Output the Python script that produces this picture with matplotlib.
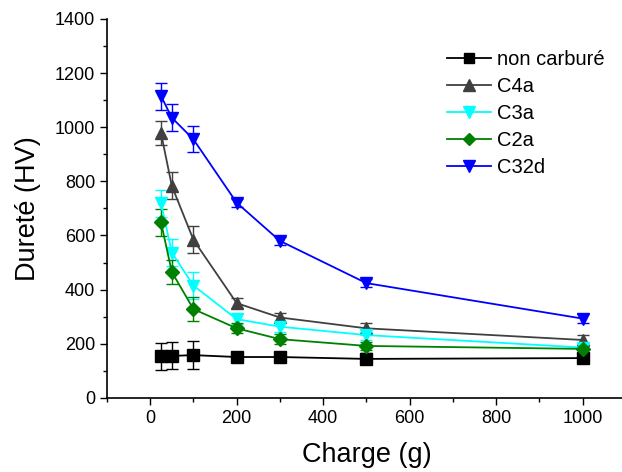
import numpy as np
import matplotlib.pyplot as plt
from matplotlib.ticker import MultipleLocator
from matplotlib.lines import Line2D

plt.rcParams['font.family'] = ['Liberation Sans', 'DejaVu Sans']

# charge appliquée (g)
charge = [25, 50, 100, 200, 300, 500, 1000]

# dureté (HV) et barres d'erreur de chaque série
non_carb = [153, 155, 158, 151, 151, 144, 147]
non_carb_err = [50, 50, 52, 15, 15, 20, 15]

c4a = [978, 783, 584, 350, 297, 257, 214]
c4a_err = [45, 50, 50, 18, 18, 20, 18]

c3a = [719, 537, 415, 291, 263, 232, 186]
c3a_err = [50, 50, 50, 18, 18, 18, 15]

c2a = [648, 465, 328, 257, 217, 192, 181]
c2a_err = [50, 45, 45, 18, 18, 15, 12]

c32d = [1115, 1035, 955, 721, 580, 424, 293]
c32d_err = [50, 50, 48, 15, 15, 15, 18]

series = [
    ("non carburé", non_carb, non_carb_err, "black", "s", 8),
    ("C4a", c4a, c4a_err, "#404040", "^", 9),
    ("C3a", c3a, c3a_err, "cyan", "v", 9),
    ("C2a", c2a, c2a_err, "green", "D", 7),
    ("C32d", c32d, c32d_err, "blue", "v", 9),
]

fig = plt.figure(figsize=(6.22, 4.72), dpi=100)
ax = fig.add_axes([0.172, 0.157, 0.834, 0.803])

handles = []
for nom, y, err, cor, mk, ms in series:
    ax.errorbar(charge, y, yerr=err, color=cor, marker=mk, markersize=ms,
                linewidth=1.3, elinewidth=1.0, capsize=4, capthick=1.0,
                ecolor=cor)
    handles.append(Line2D([], [], color=cor, marker=mk, markersize=ms - 1,
                          linewidth=1.3, label=nom))

# eixos
ax.set_xlim(-100, 1100)
ax.set_ylim(0, 1400)
ax.xaxis.set_major_locator(MultipleLocator(200))
ax.xaxis.set_minor_locator(MultipleLocator(100))
ax.yaxis.set_major_locator(MultipleLocator(200))
ax.yaxis.set_minor_locator(MultipleLocator(100))
ax.tick_params(which='major', direction='out', length=5, width=1, labelsize=13)
ax.tick_params(which='minor', direction='out', length=3, width=1)
ax.spines['top'].set_visible(False)
ax.spines['right'].set_visible(False)
ax.spines['left'].set_linewidth(1.2)
ax.spines['bottom'].set_linewidth(1.2)

ax.set_xlabel("Charge (g)", fontsize=19.5, labelpad=11)
ax.set_ylabel("Dureté (HV)", fontsize=19.5, labelpad=10)

ax.legend(handles=handles, loc='upper left', bbox_to_anchor=(0.62, 0.965),
          frameon=False, fontsize=14.5, handlelength=2.2, handletextpad=0.3,
          labelspacing=0.4)

fig.savefig("out.png", dpi=100)
